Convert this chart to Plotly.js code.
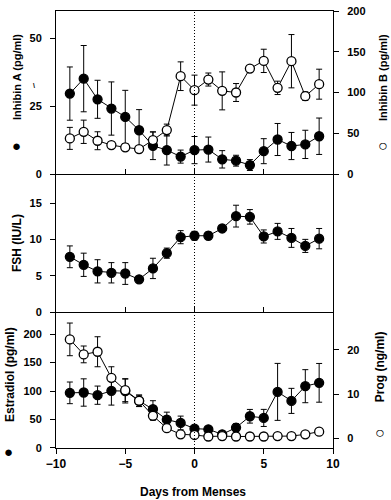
<!DOCTYPE html>
<html>
<head>
<meta charset="utf-8">
<script src="https://cdn.plot.ly/plotly-3.0.1.min.js"></script>
<style>html,body{margin:0;padding:0;background:#fff;}#chart{width:391px;height:500px;}</style>
</head>
<body>
<div id="chart"></div>
<script>
// Data
const days = [-9,-8,-7,-6,-5,-4,-3,-2,-1,0,1,2,3,4,5,6,7,8,9];

const inhibinA    = [29.6,35.1,27.5,24.1,21.0,16.1,10.4,8.8,6.4,8.8,9.0,5.4,4.9,3.3,8.4,12.7,10.3,10.9,13.9];
const inhibinAErr = [9.8,12.2,7.0,9.8,9.8,7.6,5.1,5.5,2.4,5.0,4.6,3.2,2.0,2.0,4.6,5.9,5.0,5.2,6.7];

const inhibinB    = [43.7,51.8,40.8,35.5,32.7,30.6,41.6,53.9,120.0,102.9,115.9,102.0,100.0,129.4,138.8,105.7,138.4,95.5,110.2];
const inhibinBErr = [13.5,14.3,11.0,4.0,4.0,3.0,10.0,7.3,17.6,18.4,8.0,23.3,11.0,3.0,14.3,8.2,32.7,5.3,18.4];

const fsh    = [7.6,6.5,5.6,5.4,5.3,4.5,6.0,8.1,10.3,10.5,10.5,11.5,13.2,13.1,10.4,11.1,10.2,9.1,10.1];
const fshErr = [1.5,1.6,1.6,1.4,1.5,0.3,1.4,0.7,0.9,0.6,0.5,0.3,1.5,1.0,0.9,1.1,1.3,0.9,1.4];

const estradiol    = [96.8,97.4,92.7,100.3,100.0,82.7,68.0,49.9,44.0,34.0,32.8,24.0,35.8,55.7,52.8,98.5,82.7,108.5,114.4];
const estradiolErr = [19,24,16,25,21,10,15,13,12,5,5,4,7,12,15,50,22,29,34];

const prog    = [22.4,19.0,19.6,13.7,10.9,8.5,5.1,2.3,0.9,0.75,0.4,0.5,0.4,0.4,0.4,0.5,0.5,0.9,1.5];
const progErr = [3.7,1.9,3.4,2.5,2.6,1.3,1.0,0.5,0.3,0.3,0.2,0.2,0.2,0.2,0.2,0.2,0.2,0.4,0.7];

const xTicks = [-10,-5,0,5,10];

const FONT = 'Liberation Sans, Arial, Helvetica, sans-serif';

function series(y, err, xa, ya, filled) {
  return {
    x: days, y: y, xaxis: xa, yaxis: ya, type: 'scatter', mode: 'lines+markers',
    line: {color: '#000', width: 1},
    marker: {size: 9, color: filled ? '#000' : '#fff', line: {color: '#000', width: 1.3}},
    error_y: {type: 'data', array: err, visible: true, color: '#000', thickness: 1, width: 3},
    showlegend: false, hoverinfo: 'skip', cliponaxis: false
  };
}

const data = [
  series(estradiol, estradiolErr, 'x', 'y', true),
  series(prog, progErr, 'x', 'y2', false),
  series(fsh, fshErr, 'x2', 'y3', true),
  series(inhibinA, inhibinAErr, 'x3', 'y4', true),
  series(inhibinB, inhibinBErr, 'x3', 'y5', false)
];

const dBot = [0, 0.3112];
const dMid = [0.3112, 0.627];
const dTop = [0.627, 1];

const tickFont = {family: FONT, size: 11, color: '#000', weight: 'bold'};

function yAx(domain, range, tickvals, extra) {
  return Object.assign({
    domain: domain, range: range, tickvals: tickvals, ticks: 'outside', ticklen: 5,
    tickwidth: 1, tickcolor: '#000', showline: true, linecolor: '#000', linewidth: 1,
    showgrid: false, zeroline: false, tickfont: tickFont, ticklabelstandoff: 6, fixedrange: true
  }, extra || {});
}

const layout = {
  width: 391, height: 500,
  margin: {l: 56, r: 58, t: 11, b: 52},
  paper_bgcolor: '#fff', plot_bgcolor: '#fff',
  font: {family: FONT, color: '#000', weight: 'bold'},
  xaxis: {
    domain: [0, 1], range: [-10, 10], anchor: 'y', tickvals: xTicks, ticks: 'outside',
    ticklen: 5, tickcolor: '#000', showline: true, linecolor: '#000', showgrid: false,
    zeroline: false, tickfont: {family: FONT, size: 12, color: '#000', weight: 'bold'}
  },
  xaxis2: {
    domain: [0, 1], range: [-10, 10], anchor: 'y3', tickvals: xTicks, ticks: 'inside',
    ticklen: 5, tickcolor: '#000', showline: true, linecolor: '#000', showgrid: false,
    zeroline: false, showticklabels: false
  },
  xaxis3: {
    domain: [0, 1], range: [-10, 10], anchor: 'y4', tickvals: xTicks, ticks: 'inside',
    ticklen: 5, tickcolor: '#000', showline: true, linecolor: '#000', showgrid: false,
    zeroline: false, showticklabels: false, mirror: true
  },
  yaxis: yAx(dBot, [0, 238.7], [0, 50, 100, 150, 200], {anchor: 'x'}),
  yaxis2: yAx(dBot, [-2.2, 28.6], [0, 10, 20], {anchor: 'x', overlaying: 'y', side: 'right'}),
  yaxis3: yAx(dMid, [0, 19], [0, 5, 10, 15], {anchor: 'x2', mirror: true}),
  yaxis4: yAx(dTop, [0, 60], [0, 25, 50], {anchor: 'x3'}),
  yaxis5: yAx(dTop, [0, 200], [0, 50, 100, 150, 200], {anchor: 'x3', overlaying: 'y4', side: 'right'}),
  shapes: [
    {type: 'line', xref: 'x', yref: 'paper', x0: 0, x1: 0, y0: 0, y1: 1,
     line: {color: '#000', width: 1, dash: '1px,2px'}}
  ],
  annotations: [
    {text: 'Inhibin A (pg/ml)', x: -0.1408, y: 0.849, textangle: -90},
    {text: '●', x: -0.1408, y: 0.693, size: 15},
    {text: '\\', x: -0.08, y: 0.83, size: 7},
    {text: 'Inhibin B (pg/ml)', x: 1.1805, y: 0.849, textangle: -90},
    {text: '○', x: 1.1805, y: 0.693, size: 16},
    {text: 'FSH (IU/L)', x: -0.1408, y: 0.469, textangle: -90, size: 12},
    {text: 'Estradiol (pg/ml)', x: -0.166, y: 0.167, textangle: -90, size: 12},
    {text: '●', x: -0.173, y: -0.009, size: 15},
    {text: 'Prog (ng/ml)', x: 1.17, y: 0.185, textangle: -90, size: 12},
    {text: '○', x: 1.17, y: 0.0366, size: 16},
    {text: 'Days from Menses', x: 0.4946, y: -0.1007, size: 12}
  ].map(a => ({
    text: a.text, x: a.x, y: a.y, xref: 'paper', yref: 'paper', showarrow: false,
    textangle: a.textangle || 0, xanchor: 'center', yanchor: 'middle',
    font: {family: FONT, size: a.size || 11, color: '#000', weight: 'bold'}
  }))
};

Plotly.newPlot('chart', data, layout, {staticPlot: true, displayModeBar: false});
</script>
</body>
</html>
